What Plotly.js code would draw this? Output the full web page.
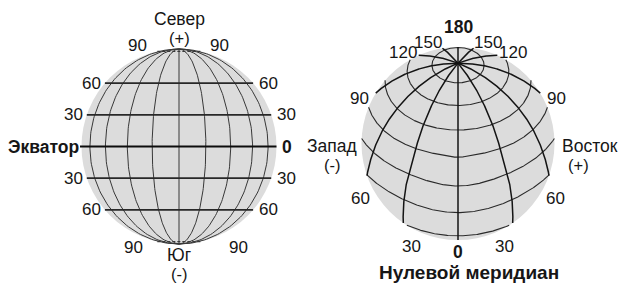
<!DOCTYPE html>
<html><head><meta charset="utf-8">
<script src="https://cdn.plot.ly/plotly-3.0.1.min.js"></script>
<style>html,body{margin:0;padding:0;background:#fff;} #chart{width:619px;height:283px;}</style>
</head><body><div id="chart"></div>
<script>
// ---------------- data ----------------
const leftParallels = [-60, -30, 30, 60];
const leftParallelLabels = ['60', '30', '30', '60'];
const leftPoleParallels = [90, -90];
const leftPoleLabels = ['90', '90'];
const equatorLabels = ['Экватор', '0'];
const leftMeridians = [-66, -49, -32, -16, 0, 16, 32, 49, 66];
const leftCaptions = ['Север', '(+)', 'Юг', '(-)'];

const rightParallels = [75, 60, 45, 30, 15, 0, -15];
const rightMeridians = [-150, -120, -90, -60, -30, 0, 30, 60, 90, 120, 150, 180];
const rightMeridianLabels = ['150', '120', '90', '60', '30', '0', '30', '60', '90', '120', '150', '180'];
const rightCaptions = ['Запад', '(-)', 'Восток', '(+)', 'Нулевой меридиан'];

// ---------------- geometry (scales) ----------------
const D2R = Math.PI / 180;
const LG = {cx: 179, cy: 146.5, R: 97.5, latScale: 0.975};
const RG = {cx: 458, cy: 143.5, R: 96.5, lat0: 37, capUp: 68.5, capDown: 55, k: 0.85};
const FONT = 'Liberation Sans, Arial, sans-serif';
const INK = '#161616';
const NUM = 17, WORD = 17.5, PAREN = 16.5;

function leftLatY(lat) { return LG.cy - (lat / 90) * LG.latScale * LG.R; }
function leftChord(lat) {
  const dy = (lat / 90) * LG.latScale * LG.R;
  const h = Math.sqrt(Math.max(0, LG.R * LG.R - dy * dy));
  return [LG.cx - h, LG.cx + h];
}
function leftMeridianPt(lon, t) {
  return {x: LG.cx + LG.R * Math.sin(lon * D2R) * Math.cos(t * D2R), y: LG.cy - LG.R * Math.sin(t * D2R), vis: true};
}

function capAt(Adeg) {
  const c = Math.max(0, -Math.cos(Adeg * D2R));
  const inv = 1 / RG.capUp + (1 / RG.capDown - 1 / RG.capUp) * c * c;
  return 1 / inv;
}
function projRight(lat, lon) {
  const p = lat * D2R, l = lon * D2R, p0 = RG.lat0 * D2R;
  const cosd = Math.sin(p0) * Math.sin(p) + Math.cos(p0) * Math.cos(p) * Math.cos(l);
  const d = Math.acos(Math.max(-1, Math.min(1, cosd))) / D2R;
  const A = Math.atan2(Math.sin(l) * Math.cos(p), Math.cos(p0) * Math.sin(p) - Math.sin(p0) * Math.cos(p) * Math.cos(l));
  const beta = capAt(A / D2R);
  const r = Math.sin(RG.k * d * D2R) / Math.sin(RG.k * beta * D2R);
  return {x: RG.cx + RG.R * r * Math.sin(A), y: RG.cy - RG.R * r * Math.cos(A), vis: d <= beta};
}

function sampleClipped(fn, t0, t1, n) {
  const xs = [], ys = [];
  let prev = null, prevT = null;
  for (let i = 0; i <= n; i++) {
    const t = t0 + (t1 - t0) * i / n;
    const p = fn(t);
    if (prev && prev.vis !== p.vis) {
      let a = prevT, b = t;
      for (let k = 0; k < 40; k++) {
        const m = (a + b) / 2;
        if (fn(m).vis === prev.vis) a = m; else b = m;
      }
      const e = fn(prev.vis ? a : b);
      xs.push(e.x); ys.push(e.y);
      if (prev.vis) { xs.push(null); ys.push(null); }
    }
    if (p.vis) { xs.push(p.x); ys.push(p.y); }
    prev = p; prevT = t;
  }
  xs.push(null); ys.push(null);
  return {x: xs, y: ys};
}
function lastPoint(seg) {
  for (let i = seg.x.length - 1; i >= 0; i--) if (seg.x[i] !== null) return {x: seg.x[i], y: seg.y[i]};
  return null;
}
function lineTrace(xs, ys, color, width, dash) {
  return {type: 'scatter', mode: 'lines', x: xs, y: ys, hoverinfo: 'skip',
    line: {color: color, width: width, dash: dash || 'solid'}, connectgaps: false};
}

const traces = [];
const ann = [];
function label(x, y, text, size, opts) {
  opts = opts || {};
  ann.push({x: x, y: y, xref: 'x', yref: 'y', text: opts.bold ? '<b>' + text + '</b>' : text,
    showarrow: false, xanchor: opts.xanchor || 'center', yanchor: 'middle', borderpad: 0,
    font: {family: FONT, size: size, color: INK}});
}

// ---------- left globe ----------
{
  const mx = [], my = [];
  leftMeridians.forEach(lon => {
    const s = sampleClipped(t => leftMeridianPt(lon, t), -90, 90, 120);
    mx.push(...s.x); my.push(...s.y);
  });
  traces.push(lineTrace(mx, my, '#383838', 1.0));

  const px = [], py = [];
  leftParallels.forEach((lat, i) => {
    const c = leftChord(lat), y = leftLatY(lat);
    px.push(c[0], c[1], null); py.push(y, y, null);
    label(c[0] - 3, y, leftParallelLabels[i], NUM, {xanchor: 'right'});
    label(c[1] + 5, y, leftParallelLabels[i], NUM, {xanchor: 'left'});
  });
  traces.push(lineTrace(px, py, '#282828', 1.7));

  const qx = [], qy = [];
  const poleGap = {'90': [9, 8, -6], '-90': [13, 27, 6]};
  leftPoleParallels.forEach((lat, i) => {
    const c = leftChord(lat), y = leftLatY(lat), g = poleGap[String(lat)];
    qx.push(c[0], c[1], null); qy.push(y, y, null);
    label(c[0] - g[0], y + g[2], leftPoleLabels[i], NUM, {xanchor: 'right'});
    label(c[1] + g[1], y + g[2], leftPoleLabels[i], NUM, {xanchor: 'left'});
  });
  traces.push(lineTrace(qx, qy, '#3a3a3a', 1.2, '3px,2px'));

  const ce = leftChord(0), ye = leftLatY(0);
  traces.push(lineTrace([ce[0] - 1.5, ce[1]], [ye, ye], '#0c0c0c', 2.2));
  label(ce[0] - 2, ye, equatorLabels[0], 17.5, {xanchor: 'right', bold: true});
  label(ce[1] + 4, ye, equatorLabels[1], 17.5, {xanchor: 'left', bold: true});

  label(LG.cx, LG.cy - LG.R - 30.5, leftCaptions[0], WORD);
  label(LG.cx, LG.cy - LG.R - 11.5, leftCaptions[1], PAREN);
  label(LG.cx, LG.cy + LG.R + 10.5, leftCaptions[2], WORD);
  label(LG.cx, LG.cy + LG.R + 29.5, leftCaptions[3], PAREN);
}

// ---------- right globe ----------
{
  const px = [], py = [];
  rightParallels.forEach(lat => {
    const s = sampleClipped(lon => projRight(lat, lon), -180, 180, 720);
    px.push(...s.x); py.push(...s.y);
  });
  traces.push(lineTrace(px, py, '#2a2a2a', 1.1));

  const mx = [], my = [];
  rightMeridians.forEach((lon, i) => {
    const s = sampleClipped(lat => projRight(lat, lon), 90, -90, 720);
    mx.push(...s.x); my.push(...s.y);
    const e = lastPoint(s);
    let th = Math.atan2(e.x - RG.cx, RG.cy - e.y) / D2R;
    const isPole = Math.abs(lon) === 180, isZero = lon === 0;
    if (!isPole && !isZero) th += Math.sign(th) * (Math.abs(th) > 90 ? 10 : 7);
    if (isZero) th = 180;
    if (isPole) th = 0;
    let rho = RG.R + 13 - 4 * Math.cos(th * D2R);
    if (isPole) rho += 11;
    if (isZero) rho -= 5;
    label(RG.cx + rho * Math.sin(th * D2R), RG.cy - rho * Math.cos(th * D2R), rightMeridianLabels[i],
      isPole || isZero ? 17.5 : NUM, {bold: isPole || isZero});
  });
  traces.push(lineTrace(mx, my, '#141414', 1.5));

  label(RG.cx - RG.R - 30, RG.cy + 2.5, rightCaptions[0], WORD);
  label(RG.cx - RG.R - 30, RG.cy + 21.5, rightCaptions[1], PAREN);
  label(RG.cx + RG.R + 35, RG.cy + 2.5, rightCaptions[2], WORD);
  label(RG.cx + RG.R + 24, RG.cy + 21.5, rightCaptions[3], PAREN);
  label(RG.cx + 11, RG.cy + RG.R + 32, rightCaptions[4], 19, {bold: true});
}

const layout = {
  width: 619, height: 283,
  margin: {l: 0, r: 0, t: 0, b: 0, pad: 0},
  paper_bgcolor: '#ffffff', plot_bgcolor: '#ffffff',
  showlegend: false,
  xaxis: {range: [0, 619], visible: false, fixedrange: true},
  yaxis: {range: [283, 0], visible: false, fixedrange: true},
  shapes: [
    {type: 'circle', xref: 'x', yref: 'y', x0: LG.cx - LG.R, x1: LG.cx + LG.R, y0: LG.cy - LG.R, y1: LG.cy + LG.R,
      fillcolor: '#dcdcdc', line: {width: 0}, layer: 'below'},
    {type: 'circle', xref: 'x', yref: 'y', x0: RG.cx - RG.R, x1: RG.cx + RG.R, y0: RG.cy - RG.R, y1: RG.cy + RG.R,
      fillcolor: '#dcdcdc', line: {width: 0}, layer: 'below'}
  ],
  annotations: ann
};
Plotly.newPlot('chart', traces, layout, {staticPlot: true, displayModeBar: false});
</script>
</body></html>
